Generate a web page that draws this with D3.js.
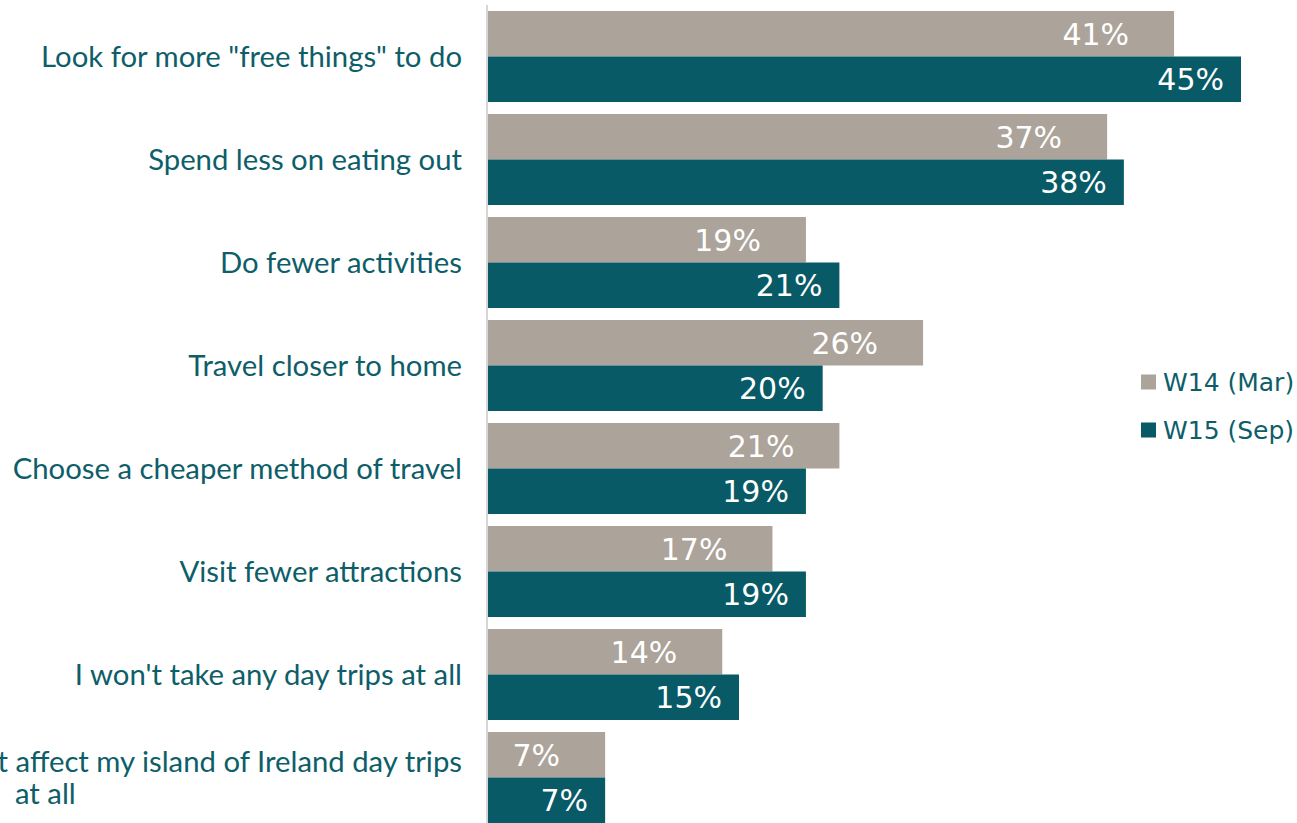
<!DOCTYPE html>
<html>
<head>
<meta charset="utf-8">
<script src="https://cdn.jsdelivr.net/npm/d3@7"></script>
<style>
  html, body { margin: 0; padding: 0; background: #fff; overflow: hidden; }
  svg { display: block; }
</style>
</head>
<body>
<svg id="chart" width="1297" height="823"></svg>
<script>
// Survey: how rising costs change day-trip plans (share of respondents)
const categories = [
  ["Look for more \"free things\" to do"],
  ["Spend less on eating out"],
  ["Do fewer activities"],
  ["Travel closer to home"],
  ["Choose a cheaper method of travel"],
  ["Visit fewer attractions"],
  ["I won't take any day trips at all"],
  ["It won't affect my island of Ireland day trips", "at all"]
];
const seriesNames = ["W14 (Mar)", "W15 (Sep)"];
const w14 = [41, 37, 19, 26, 21, 17, 14, 7];
const w15 = [45, 38, 21, 20, 19, 19, 15, 7];

const colors = ["#aca39a", "#075a66"];
const textColor = "#0d5e69";
const series = [w14, w15];

const svg = d3.select("#chart");

const x = d3.scaleLinear().domain([0, 45]).range([488, 1241]);
const y = d3.scaleBand()
  .domain(d3.range(categories.length))
  .range([5, 829])
  .paddingInner(12 / 103)
  .paddingOuter(6 / 103);
const ySub = d3.scaleBand().domain([0, 1]).range([0, y.bandwidth()]);

// bars
const groups = svg.append("g").selectAll("g")
  .data(categories.map((c, i) => i))
  .join("g")
  .attr("transform", i => `translate(0,${y(i)})`);

series.forEach((vals, s) => {
  groups.append("rect")
    .attr("x", x(0))
    .attr("y", ySub(s))
    .attr("width", i => x(vals[i]) - x(0))
    .attr("height", ySub.bandwidth())
    .attr("fill", colors[s]);

  groups.append("text")
    .attr("x", i => x(vals[i]) - (s === 0 ? 45 : 17))
    .attr("y", ySub(s) + ySub.bandwidth() / 2)
    .attr("dy", "0.36em")
    .attr("text-anchor", "end")
    .attr("fill", "#fff")
    .style("font-family", "'DejaVu Sans', sans-serif")
    .style("font-size", "30px")
    .text(i => vals[i] + "%");
});

// category axis line
svg.append("line")
  .attr("x1", 487).attr("x2", 487)
  .attr("y1", 5).attr("y2", 823)
  .attr("stroke", "#d6d6d6")
  .attr("stroke-width", 2);

// category labels
const lab = svg.append("g")
  .style("font-family", "Lato, sans-serif")
  .style("font-size", "29.3px")
  .attr("fill", textColor);

categories.forEach((lines, i) => {
  const cy = y(i) + y.bandwidth() / 2;
  if (lines.length === 1) {
    lab.append("text")
      .attr("x", 462).attr("y", cy)
      .attr("dy", "0.35em")
      .attr("text-anchor", "end")
      .text(lines[0]);
  } else {
    lab.append("text")
      .attr("x", 462).attr("y", cy - 16)
      .attr("dy", "0.35em")
      .attr("text-anchor", "end")
      .text(lines[0]);
    lab.append("text")
      .attr("x", 15).attr("y", cy + 16)
      .attr("dy", "0.35em")
      .attr("text-anchor", "start")
      .text(lines[1]);
  }
});

// legend
const legend = svg.append("g").attr("transform", "translate(1141,382)");
seriesNames.forEach((name, s) => {
  const g = legend.append("g").attr("transform", `translate(0,${s * 48})`);
  g.append("rect")
    .attr("x", 0).attr("y", -7.5)
    .attr("width", 15).attr("height", 15)
    .attr("fill", colors[s]);
  g.append("text")
    .attr("x", 22).attr("y", 0)
    .attr("dy", "0.36em")
    .attr("fill", textColor)
    .style("font-family", "'DejaVu Sans', sans-serif")
    .style("font-size", "25px")
    .text(name);
});
</script>
</body>
</html>
